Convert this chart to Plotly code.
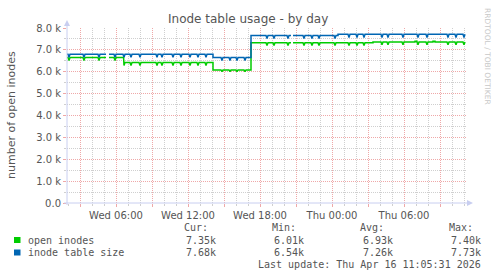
import plotly.graph_objects as go
from datetime import datetime, timedelta

W, H = 497, 276
PL, PR, PT, PB = 67, 467, 28, 203  # plot box in pixels

BASE = datetime(2026, 4, 15, 0, 0)  # Wed 00:00

# ---------------- data (values in thousands, times in minutes after Wed 00:00) -------------
series_names = ["open inodes", "inode table size"]
series_colors = ["#00CC00", "#0066B3"]
cur_vals = ["7.35k", "7.68k"]
min_vals = ["6.01k", "6.54k"]
avg_vals = ["6.93k", "7.26k"]
max_vals = ["7.40k", "7.73k"]

green_seg_start = [115, 325, 398, 845, 1035, 1245, 1645, 1855, 1865, 1945, 1955]
green_seg_end = [310, 398, 845, 1035, 1235, 1645, 1855, 1865, 1945, 1955, 2105]
green_seg_val = [6.65, 6.65, 6.42, 6.08, 7.33, 7.33, 7.36, 7.40, 7.36, 7.40, 7.36]

blue_seg_start = [115, 325, 845, 1035, 1245, 1470]
blue_seg_end = [310, 845, 1035, 1235, 1470, 2105]
blue_seg_val = [6.80, 6.80, 6.65, 7.66, 7.66, 7.71]

dip_minutes = [125, 200, 275, 355, 400, 435, 480, 565, 590, 645, 685, 730, 770, 810,
               890, 930, 965, 1005,
               1115, 1150, 1220, 1300, 1340, 1375, 1455,
               1525, 1565, 1600, 1690, 1720, 1795, 1870, 1915, 2020, 2060, 2100]
green_dip_vals = [6.52, 6.52, 6.52, 6.52, 6.29, 6.29, 6.29, 6.29, 6.29, 6.29, 6.29, 6.29, 6.29, 6.29,
                  6.00, 6.00, 6.00, 6.00,
                  7.20, 7.20, 7.20, 7.20, 7.20, 7.20, 7.20,
                  7.20, 7.20, 7.20, 7.23, 7.23, 7.23, 7.23, 7.23, 7.23, 7.23, 7.23]
blue_dip_vals = [6.66, 6.66, 6.66, 6.66, 6.66, 6.66, 6.66, 6.66, 6.66, 6.66, 6.66, 6.66, 6.66, 6.66,
                 6.52, 6.52, 6.52, 6.52,
                 7.52, 7.52, 7.52, 7.52, 7.52, 7.52, 7.52,
                 7.57, 7.57, 7.57, 7.57, 7.57, 7.57, 7.57, 7.57, 7.57, 7.57, 7.57]

y_tick_vals = [0, 1, 2, 3, 4, 5, 6, 7, 8]
y_tick_text = ["0.0", "1.0 k", "2.0 k", "3.0 k", "4.0 k", "5.0 k", "6.0 k", "7.0 k", "8.0 k"]
x_tick_minutes = [180, 360, 540, 720, 900, 1080, 1260, 1440, 1620, 1800, 1980]
x_tick_text = ["", "Wed 06:00", "", "Wed 12:00", "", "Wed 18:00", "", "Thu 00:00", "", "Thu 06:00", ""]
x_range_minutes = [115, 2115]

title_text = "Inode table usage - by day"
y_title = "number of open inodes"
side_text = "RRDTOOL / TOBI OETIKER"
last_update = "Last update: Thu Apr 16 11:05:31 2026"


def t(m):
    return BASE + timedelta(minutes=m)


def build(starts, ends, vals, dips, dipv):
    xs, ys = [], []
    prev_end = None
    for s, e, v in zip(starts, ends, vals):
        if prev_end is not None and s != prev_end:
            xs.append(None); ys.append(None)
        xs.append(t(s)); ys.append(v)
        for m, d in zip(dips, dipv):
            if s <= m < e:
                xs += [t(max(s, m - 5)), t(m), t(min(e, m + 5))]
                ys += [v, d, v]
        xs.append(t(e)); ys.append(v)
        prev_end = e
    return xs, ys


def px(x):
    return (x - PL) / (PR - PL)


def py(y):
    return (PB - y) / (PB - PT)


gx, gy = build(green_seg_start, green_seg_end, green_seg_val, dip_minutes, green_dip_vals)
bx, by = build(blue_seg_start, blue_seg_end, blue_seg_val, dip_minutes, blue_dip_vals)

RED = "#efa8a8"
GRAY = "#cfcfcf"
TXT = "#555555"
AX = "#c8cef0"

fig = go.Figure()
fig.add_trace(go.Scatter(x=gx, y=gy, mode="lines", line=dict(color=series_colors[0], width=1.5),
                         connectgaps=False, name=series_names[0], hoverinfo="skip"))
fig.add_trace(go.Scatter(x=bx, y=by, mode="lines", line=dict(color=series_colors[1], width=1.5),
                         connectgaps=False, name=series_names[1], hoverinfo="skip"))

fig.update_layout(
    width=W, height=H,
    margin=dict(l=PL, r=W - PR, t=PT, b=H - PB),
    paper_bgcolor="white", plot_bgcolor="white",
    showlegend=False,
    font=dict(family="DejaVu Sans", size=10, color=TXT),
)
fig.update_xaxes(
    type="date", range=[t(x_range_minutes[0]), t(x_range_minutes[1])],
    tickvals=[t(m) for m in x_tick_minutes], ticktext=x_tick_text,
    showgrid=True, gridcolor=RED, griddash="1px,1px", gridwidth=1,
    minor=dict(dtick=3600000, showgrid=True, gridcolor=GRAY, griddash="1px,1px", gridwidth=1,
               ticks="outside", ticklen=2, tickcolor=GRAY),
    zeroline=False, showline=False, ticks="outside", ticklen=3, tickcolor=RED,
    tickfont=dict(size=10, color=TXT),
)
fig.update_yaxes(
    range=[0, 8.0001], tickvals=y_tick_vals, ticktext=y_tick_text,
    showgrid=True, gridcolor=RED, griddash="1px,1px", gridwidth=1,
    minor=dict(dtick=0.5, showgrid=True, gridcolor=GRAY, griddash="1px,1px", gridwidth=1,
               ticks="outside", ticklen=2, tickcolor=GRAY),
    zeroline=False, showline=False, ticks="outside", ticklen=3, tickcolor=RED,
    tickfont=dict(size=10, color=TXT),
)

shapes = [
    dict(type="line", xref="paper", yref="paper", x0=px(67), x1=px(67), y0=py(205), y1=py(24),
         line=dict(color=AX, width=1)),
    dict(type="line", xref="paper", yref="paper", x0=px(64), x1=px(468), y0=py(203), y1=py(203),
         line=dict(color=AX, width=1)),
    dict(type="path", xref="paper", yref="paper",
         path=f"M {px(64)},{py(26)} L {px(70)},{py(26)} L {px(67)},{py(20)} Z",
         fillcolor=AX, line=dict(color=AX, width=0)),
    dict(type="path", xref="paper", yref="paper",
         path=f"M {px(467)},{py(200)} L {px(467)},{py(206)} L {px(473)},{py(203)} Z",
         fillcolor=AX, line=dict(color=AX, width=0)),
]
for i, yc in enumerate([240, 252.5]):
    shapes.append(dict(type="rect", xref="paper", yref="paper",
                       x0=px(14), x1=px(20.5), y0=py(yc - 3), y1=py(yc + 3),
                       fillcolor=series_colors[i], line=dict(width=0)))
fig.update_layout(shapes=shapes)

MONO = "DejaVu Sans Mono"
ann = []


def A(text, x, y, xanchor="left", size=10, family=MONO, color=TXT, angle=0):
    ann.append(dict(text=text, x=px(x), y=py(y), xref="paper", yref="paper", showarrow=False,
                    xanchor=xanchor, yanchor="middle", textangle=angle,
                    font=dict(family=family, size=size, color=color)))


A(title_text, 248, 19, xanchor="center", size=12, family="DejaVu Sans")
A(y_title, 11, 115, xanchor="center", size=11, family="DejaVu Sans", angle=-90)
A(side_text, 488, 56, xanchor="center", size=7.5, family="DejaVu Sans", color="#c8c8c8", angle=90)

for lab, xl in zip(["Cur:", "Min:", "Avg:", "Max:"], [182, 270, 358, 447]):
    A(lab, xl, 227.5)
rows_y = [240, 252.5]
for i in range(2):
    A(series_names[i], 26, rows_y[i])
    for vals, xr in zip([cur_vals, min_vals, avg_vals, max_vals], [217.5, 306, 394.5, 483]):
        A(vals[i], xr, rows_y[i], xanchor="right")
A(last_update, 483, 264, xanchor="right")

fig.update_layout(annotations=ann)
fig.write_html("out.html")
